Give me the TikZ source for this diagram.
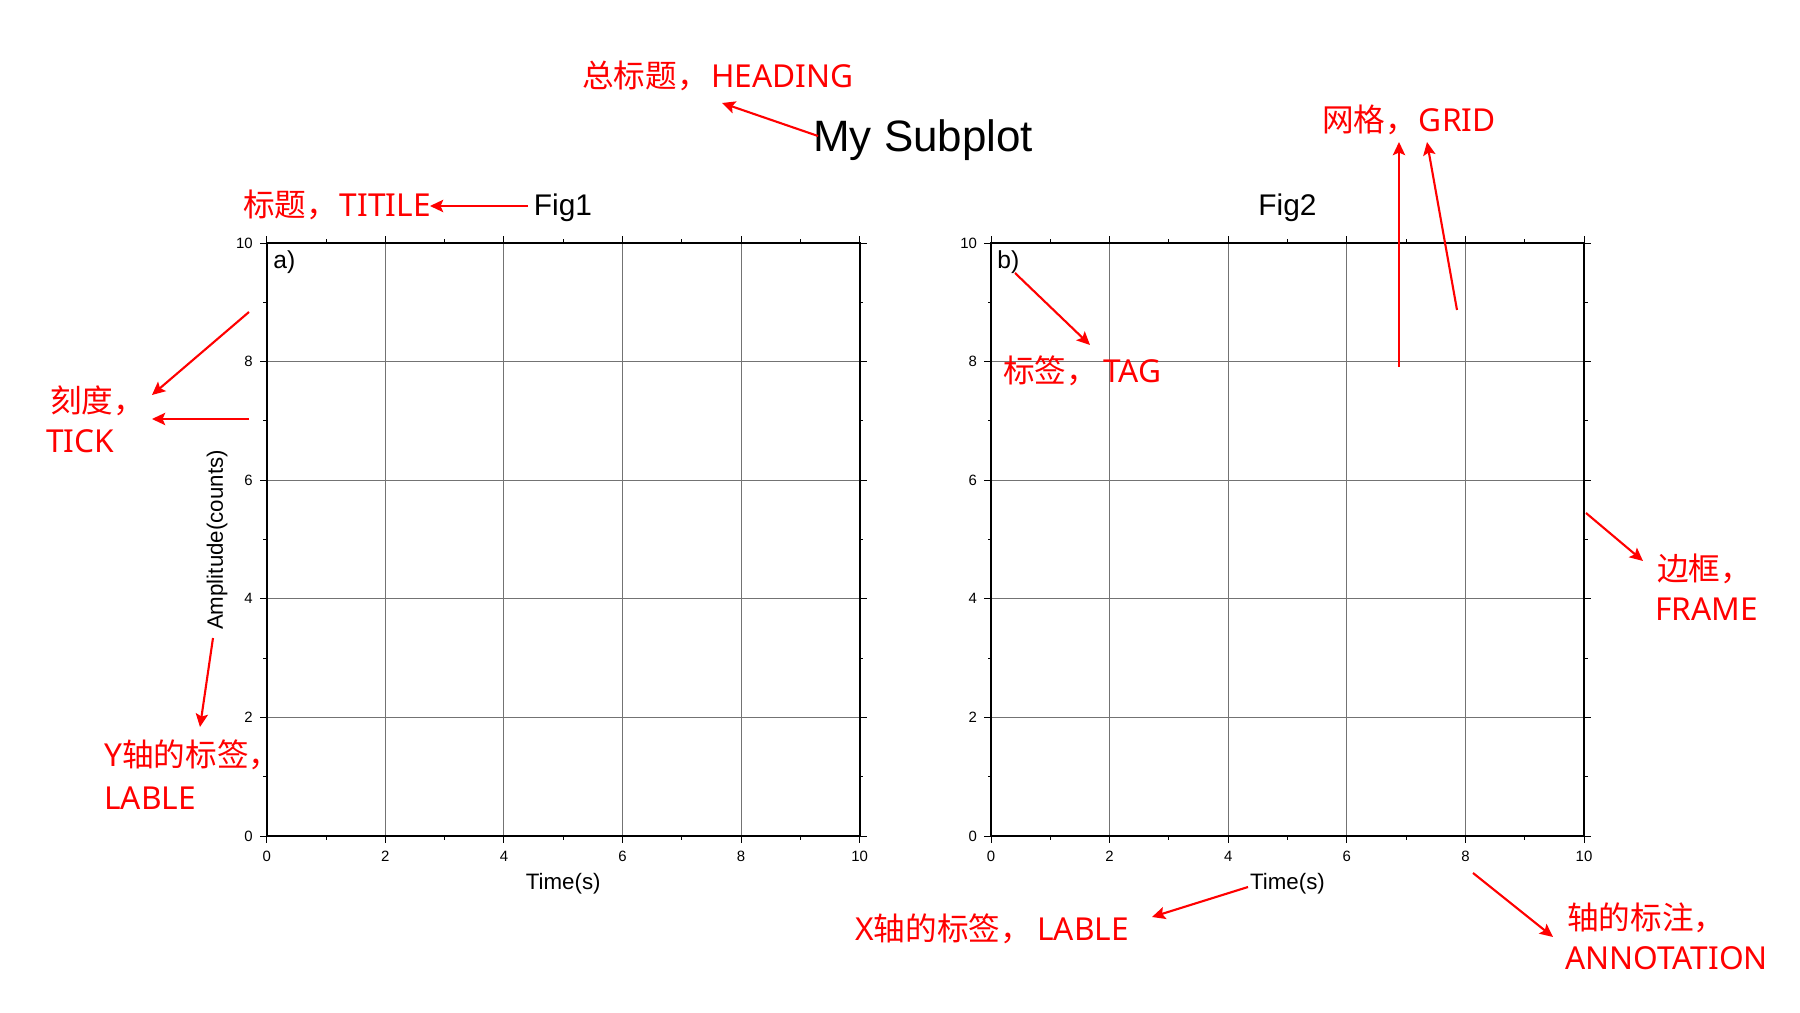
\documentclass[tikz,border=0pt]{standalone}
\usepackage{fontspec}
\setmainfont{Liberation Sans}
\newfontfamily\cjk{Noto Sans CJK SC}
\newfontfamily\redlat{Noto Sans}
\usetikzlibrary{arrows.meta}
\begin{document}
\begin{tikzpicture}[x=0.02cm,y=-0.02cm,
  redlbl/.style={text=red, font=\cjk\fontsize{18}{22}\selectfont, inner sep=0, anchor=base west},
  redarr/.style={draw=red, line width=1.2pt, -{Stealth[length=7.5pt,width=7pt,inset=1.5pt]}},
  gridln/.style={draw=black!55, line width=0.5pt},
  frameln/.style={draw=black, line width=1.2pt},
  tickln/.style={draw=black, line width=0.5pt},
  ticklbl/.style={font=\fontsize{8.5}{10}\selectfont, inner sep=0},
  axlbl/.style={font=\fontsize{12.7}{15}\selectfont, inner sep=0},
  figttl/.style={font=\fontsize{17}{20}\selectfont, inner sep=0, anchor=base},
  taglbl/.style={font=\fontsize{14}{17}\selectfont, inner sep=0, anchor=base west}
]
\useasboundingbox[fill=white] (0,0) rectangle (1800,1013);

% frames
\foreach \fx/\nm in {266.7/a, 991/b}{
  \foreach \i in {2,4,6,8}{
    \draw[gridln] (\fx+\i*59.3,242.7) -- (\fx+\i*59.3,836);
    \draw[gridln] (\fx,836-\i*59.3) -- (\fx+593,836-\i*59.3);
  }
  \foreach \i in {0,2,...,10}{
    \draw[tickln] (\fx+\i*59.3,242.7) -- ++(0,-7);
    \draw[tickln] (\fx+\i*59.3,836) -- ++(0,7);
    \draw[tickln] (\fx,836-\i*59.3) -- ++(-7,0);
    \draw[tickln] (\fx+593,836-\i*59.3) -- ++(7,0);
    \node[ticklbl, anchor=base] (xt-\nm-\i) at (\fx+\i*59.3,861) {\i};
    \node[ticklbl, anchor=east] (yt-\nm-\i) at (\fx-13.7,836-\i*59.3) {\i};
  }
  \foreach \i in {1,3,...,9}{
    \draw[tickln] (\fx+\i*59.3,242.7) -- ++(0,-3.5);
    \draw[tickln] (\fx+\i*59.3,836) -- ++(0,3.5);
    \draw[tickln] (\fx,836-\i*59.3) -- ++(-3.5,0);
    \draw[tickln] (\fx+593,836-\i*59.3) -- ++(3.5,0);
  }
  \draw[frameln] (\fx,242.7) rectangle (\fx+593,836);
  \node[axlbl, anchor=base] (time-\nm) at (\fx+296.5,889) {Time(s)};
}

% black texts
\node[font=\fontsize{25}{30}\selectfont, inner sep=0, anchor=base west] (heading) at (813,152) {My Subplot};
\node[figttl] (fig1) at (563,216) {Fig1};
\node[figttl] (fig2) at (1287.5,216) {Fig2};
\node[taglbl] (taga) at (273,269) {a)};
\node[taglbl] (tagb) at (997,269) {b)};
\node[axlbl, rotate=90] (amp) at (217,540) {Amplitude(counts)};

% red labels
\node[redlbl] (lheading) at (582,88) {总标题，\hspace{1.5pt}{\redlat HEADING}};
\node[redlbl] (ltitle) at (243,217) {标题，\hspace{1pt}{\redlat TITILE}};
\node[redlbl] (ltick1) at (50,413) {刻度，};
\node[redlbl] (ltick2) at (46,453) {\redlat TICK};
\node[redlbl] (lylab1) at (104,766) {{\redlat Y}轴的标签，};
\node[redlbl] (lylab2) at (104,809) {\redlat LABLE};
\node[redlbl] (lxlab) at (855,940) {{\redlat X}轴的标签，\hspace{3pt}{\redlat LABLE}};
\node[redlbl] (ltag) at (1003,383) {标签，\hspace{3pt}{\redlat TAG}};
\node[redlbl] (lgrid) at (1322,132) {网格，\hspace{1pt}{\redlat GRID}};
\node[redlbl] (lframe1) at (1657,581) {边框，};
\node[redlbl] (lframe2) at (1655,621) {\redlat FRAME};
\node[redlbl] (lann1) at (1567,929) {轴的标注，};
\node[redlbl] (lann2) at (1565,969) {\redlat ANNOTATION};

% arrow endpoints
\coordinate (h0) at (818,136);   \coordinate (h1) at (722,103);
\coordinate (t0) at (528,206);   \coordinate (t1) at (430,206);
\coordinate (k0) at (249,312);   \coordinate (k1) at (152,395);
\coordinate (k2) at (249,419);   \coordinate (k3) at (152,419);
\coordinate (y0) at (213,638);   \coordinate (y1) at (200,727);
\coordinate (x0) at (1248,887);  \coordinate (x1) at (1152,917);
\coordinate (g0) at (1015,273);  \coordinate (g1) at (1090,345);
\coordinate (r0) at (1399,367);  \coordinate (r1) at (1399,142);
\coordinate (r2) at (1457,310);  \coordinate (r3) at (1427,142);
\coordinate (f0) at (1586,513);  \coordinate (f1) at (1643,561);
\coordinate (a0) at (1473,873);  \coordinate (a1) at (1553,937);

\draw[redarr] (h0) -- (h1);
\draw[redarr] (t0) -- (t1);
\draw[redarr] (k0) -- (k1);
\draw[redarr] (k2) -- (k3);
\draw[redarr] (y0) -- (y1);
\draw[redarr] (x0) -- (x1);
\draw[redarr] (g0) -- (g1);
\draw[redarr] (r0) -- (r1);
\draw[redarr] (r2) -- (r3);
\draw[redarr] (f0) -- (f1);
\draw[redarr] (a0) -- (a1);
\end{tikzpicture}
\end{document}
